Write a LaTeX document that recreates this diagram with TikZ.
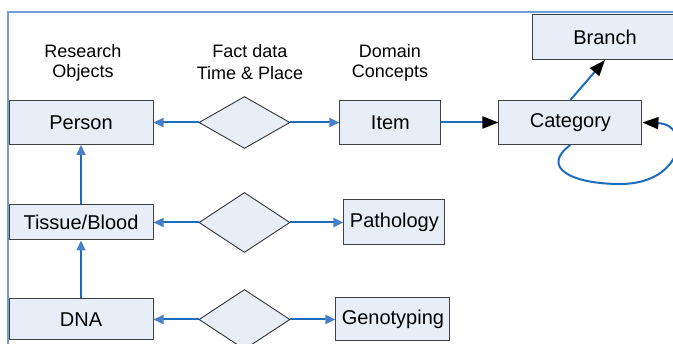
\documentclass[tikz,border=0pt]{standalone}
\usepackage{fontspec}
\setmainfont{Liberation Sans}
\usetikzlibrary{positioning,shapes.geometric,arrows.meta}
\definecolor{kastenfill}{RGB}{232,238,247}
\definecolor{linie}{RGB}{28,108,192}
\definecolor{spitzenblau}{RGB}{72,127,200}
\definecolor{rahmenblau}{RGB}{115,158,214}
\tikzset{
  kasten/.style={draw=black!75,fill=kastenfill,line width=1pt,inner sep=0pt,
    minimum width=#1,minimum height=44pt,
    font=\fontsize{20}{23}\selectfont
  },
  kasten/.default=144pt,% Breite der linken Spalte
  raute/.style={diamond,draw=black!80,fill=kastenfill,line width=0.9pt,inner sep=0pt,
    minimum width=91pt,minimum height=#1},
  raute/.default=60pt,
  beschr/.style={align=center,font=\fontsize{18}{19.5}\selectfont},
  pfeil/.style={line width=2pt,draw=linie,-{Triangle[length=10pt,width=9pt,color=spitzenblau]}},
  spitze/.style={line width=2pt,draw=linie,-{Triangle[length=16pt,width=12pt,color=black]}}
}
\begin{document}
\begin{tikzpicture}[x=1pt,y=-1pt]
\useasboundingbox (0,0) rectangle (673,344);
% Rahmen
  \draw[rahmenblau,line width=2pt] (7.5,344) |- (673,12.5);
% linke Spalte
  \node[kasten] (person) at (81,122.5) {Person};
  \node[kasten,minimum height=35pt,below=59.5pt of person] (tissue) {Tissue/Blood};
  \node[kasten,minimum height=41pt,below=58pt of tissue] (dna) {DNA};
% Rauten
  \node[raute=52pt,right=45pt of person] (r1) {};
  \node[raute,right=45pt of tissue] (r2) {};
  \node[raute,right=45pt of dna] (r3) {};
% rechte Seite
  \node[kasten=101pt,right=49pt of r1] (item) {Item};
  \node[kasten=101pt,minimum height=45pt,right=53pt of r2] (patho) {Pathology};
  \node[kasten=114pt,minimum height=43pt,right=45pt of r3] (geno) {Genotyping};
  \node[kasten=143pt,right=57pt of item] (cat) {Category};
  \node[kasten=146pt,minimum height=45pt] (branch) at (605,37) {Branch};
% Beschriftung der Spalten
  \node[beschr] (lforsch) at (83,63) {Research\\Objects};
  \node[beschr,font=\fontsize{18}{22}\selectfont] (lfakt) at (250,62) {Fact data\\Time \& Place};
  \node[beschr] (ldomain) at (390,63) {Domain\\Concepts};
% Verbindungen einzeichnen
  \foreach \r/\links/\rechts in {r1/person/item,r2/tissue/patho,r3/dna/geno}{
    \draw[pfeil] (\r.west) -- (\links.east);
    \draw[pfeil] (\r.east) -- (\rechts.west);
  }
  \draw[pfeil] (tissue) -- (person);
  \draw[pfeil] (dna) -- (tissue);
  \draw[spitze] (item) -- (cat);
  \draw[spitze] (cat.north) -- (branch.south);
  % Schleife an Category
  \draw[spitze] (cat.south) .. controls +(-30,22) and +(-50,0) .. ++(50,39)
    .. controls +(63,0) and +(50,2) .. (cat.east);
\end{tikzpicture}
\end{document}
